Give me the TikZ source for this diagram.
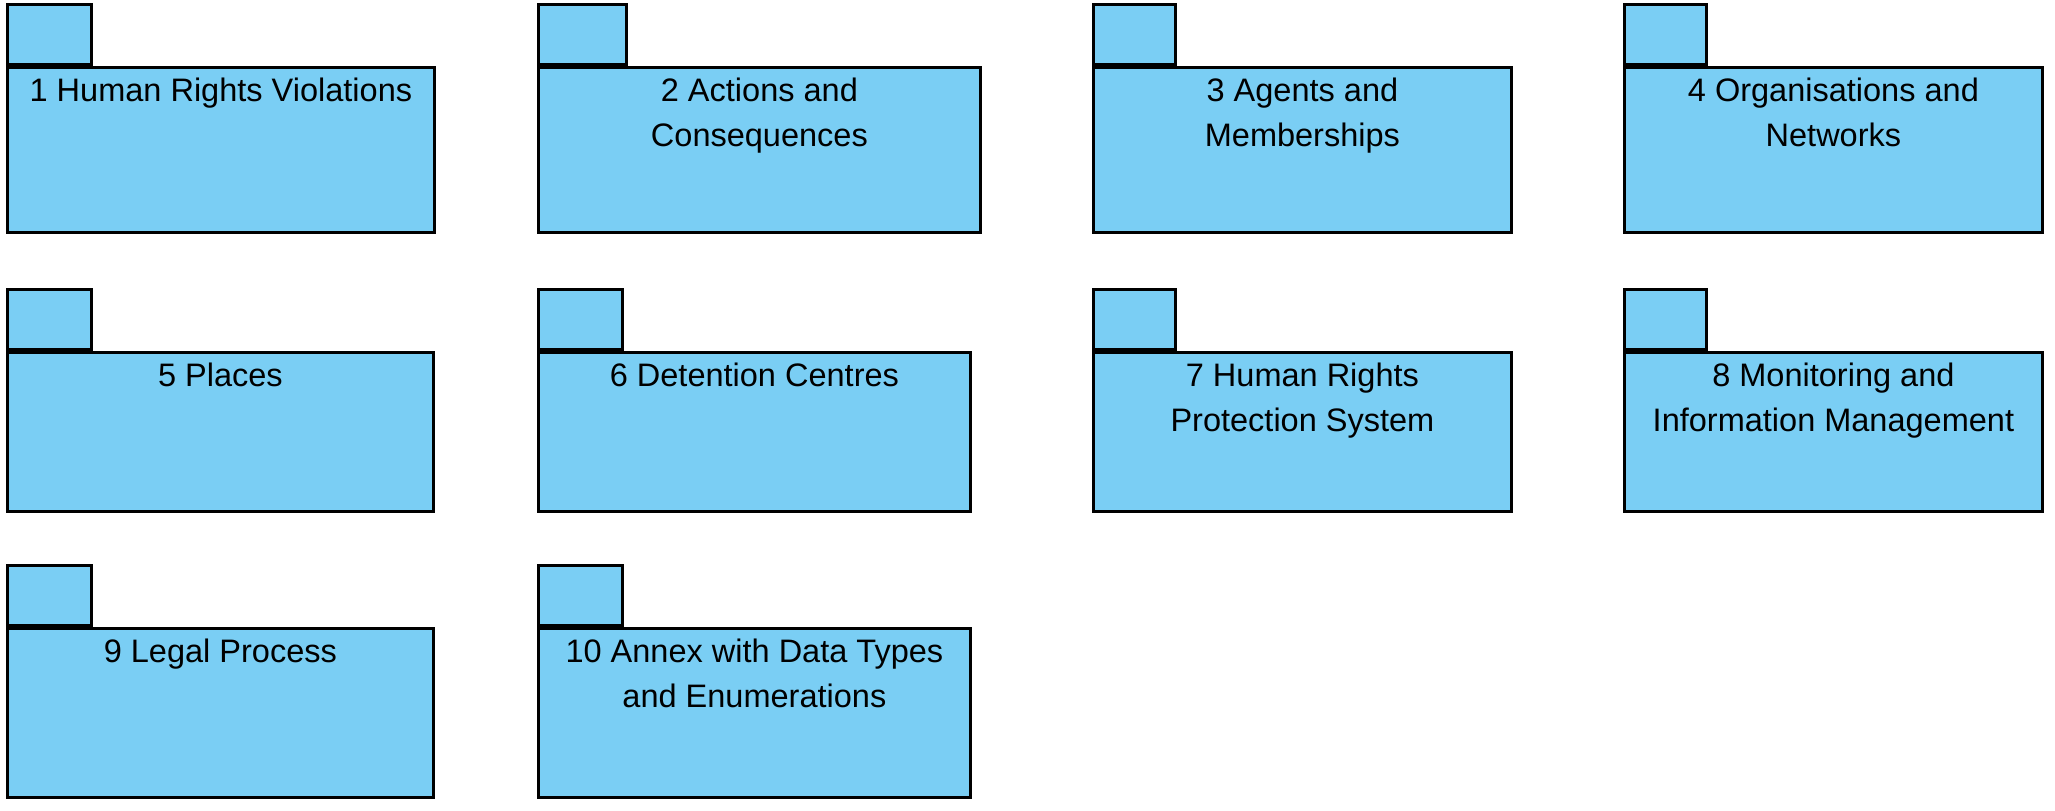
\documentclass[tikz,border=0pt]{standalone}
\usepackage{fontspec}
\setmainfont{Liberation Sans}
\usetikzlibrary{positioning}
\definecolor{pkgblue}{HTML}{7ACEF4}

\begin{document}
\begin{tikzpicture}[
    pkg/.style={draw,rectangle,fill=pkgblue,line width=0.8pt,anchor=north west,inner sep=0pt},
    tab/.style={draw,rectangle,fill=pkgblue,line width=0.8pt,inner sep=0pt,minimum height=0.6cm},
    title/.style={anchor=north,align=center,inner sep=0pt,font=\fontsize{9.25pt}{12.8pt}\selectfont}]
  \useasboundingbox (0,0) rectangle (20.55,-8.10);

  % first row
  \node[pkg,minimum width=4.27cm,minimum height=1.65cm] (p1) at (0.06,-0.66){};
  \node[tab,minimum width=0.84cm,above right=0pt of p1.north west] (t1){};
  \node[title,below=0.113cm of p1.north] (l1){1 Human Rights Violations};

  \node[pkg,minimum width=4.42cm,minimum height=1.65cm] (p2) at (5.37,-0.66){};
  \node[tab,minimum width=0.88cm,above right=0pt of p2.north west] (t2){};
  \node[title,below=0.113cm of p2.north] (l2){2 Actions and\\Consequences};

  \node[pkg,minimum width=4.18cm,minimum height=1.65cm] (p3) at (10.92,-0.66){};
  \node[tab,minimum width=0.82cm,above right=0pt of p3.north west] (t3){};
  \node[title,below=0.113cm of p3.north] (l3){3 Agents and\\Memberships};

  \node[pkg,minimum width=4.18cm,minimum height=1.65cm] (p4) at (16.23,-0.66){};
  \node[tab,minimum width=0.82cm,above right=0pt of p4.north west] (t4){};
  \node[title,below=0.113cm of p4.north] (l4){4 Organisations and\\Networks};

  % second row
  \node[pkg,minimum width=4.26cm,minimum height=1.59cm] (p5) at (0.06,-3.51){};
  \node[tab,minimum width=0.84cm,above right=0pt of p5.north west] (t5){};
  \node[title,below=0.113cm of p5.north] (l5){5 Places};

  \node[pkg,minimum width=4.32cm,minimum height=1.59cm] (p6) at (5.37,-3.51){};
  \node[tab,minimum width=0.84cm,above right=0pt of p6.north west] (t6){};
  \node[title,below=0.113cm of p6.north] (l6){6 Detention Centres};

  \node[pkg,minimum width=4.18cm,minimum height=1.59cm] (p7) at (10.92,-3.51){};
  \node[tab,minimum width=0.82cm,above right=0pt of p7.north west] (t7){};
  \node[title,below=0.113cm of p7.north] (l7){7 Human Rights\\Protection System};

  \node[pkg,minimum width=4.18cm,minimum height=1.59cm] (p8) at (16.23,-3.51){};
  \node[tab,minimum width=0.82cm,above right=0pt of p8.north west] (t8){};
  \node[title,below=0.113cm of p8.north] (l8){8 Monitoring and\\Information Management};

  % third row
  \node[pkg,minimum width=4.26cm,minimum height=1.69cm] (p9) at (0.06,-6.27){};
  \node[tab,minimum width=0.84cm,above right=0pt of p9.north west] (t9){};
  \node[title,below=0.113cm of p9.north] (l9){9 Legal Process};

  \node[pkg,minimum width=4.32cm,minimum height=1.69cm] (p10) at (5.37,-6.27){};
  \node[tab,minimum width=0.84cm,above right=0pt of p10.north west] (t10){};
  \node[title,below=0.113cm of p10.north] (l10){10 Annex with Data Types\\and Enumerations};
\end{tikzpicture}
\end{document}
